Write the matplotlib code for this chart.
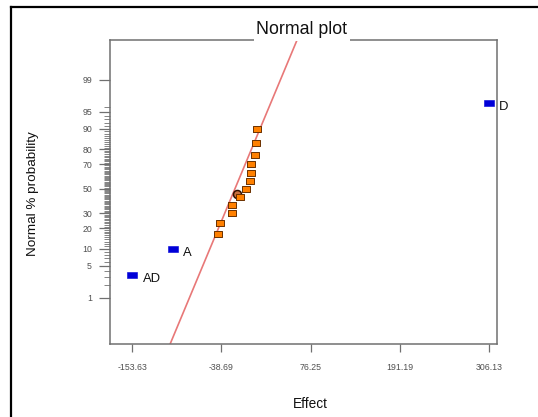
import matplotlib
matplotlib.use("Agg")
import matplotlib.pyplot as plt
from matplotlib.lines import Line2D
from statistics import NormalDist
import numpy as np

plt.rcParams['font.family'] = ['Liberation Sans', 'DejaVu Sans']

# effects, sorted, with their normal % probability
effects = [-153.6, -101.5, -43.3, -40.4, -25.3, -24.9, -15.4, -7.2,
           -2.0, -1.2, -0.7, 4.5, 5.7, 7.4, 305.7]
probs = [3.33, 10.0, 16.67, 23.33, 30.0, 36.67, 43.33, 50.0,
         56.67, 63.33, 70.0, 76.67, 83.33, 90.0, 96.67]
labels = ["AD", "A", "", "", "", "", "", "", "", "", "", "", "", "", "D"]
significant = [True, True] + [False] * 12 + [True]

# extra circled point
circ_effect = [-18.8]
circ_prob = [45.7]

# fitted line (mean, sd of the normal line)
fit_mean = -21.3
fit_sd = 25.25

xticks = [-153.63, -38.69, 76.25, 191.19, 306.13]
yticks_pct = [1, 5, 10, 20, 30, 50, 70, 80, 90, 95, 99]
yminor_pct = list(range(2, 97))

nd = NormalDist()
z = lambda p: nd.inv_cdf(p / 100.0)

fig = plt.figure(figsize=(5.38, 4.17), dpi=100)
ax = fig.add_axes([110 / 538, 73 / 417, 387 / 538, 304 / 417])

ylo, yhi = -3.31, 3.17
ax.set_xlim(-182.4, 316.5)
ax.set_ylim(ylo, yhi)

# fit line
zz = np.array([ylo, yhi])
ax.plot(fit_mean + fit_sd * zz, zz, color="#e87878", lw=1.2, zorder=2)

rect = [(-1, -0.7), (1, -0.7), (1, 0.7), (-1, 0.7), (-1, -0.7)]
for e, p, lab, sig in zip(effects, probs, labels, significant):
    if sig:
        ax.plot(e, z(p), marker=rect, ms=6.6, mfc="#0000d8", mec="#0000d8",
                mew=0.4, ls="none", zorder=4)
        ax.annotate(lab, (e, z(p)), xytext=(7.5, -3), textcoords="offset points",
                    fontsize=9.4, va="center", ha="left", color="#111111")
    else:
        ax.plot(e, z(p), marker=rect, ms=6.0, mfc="#ff8000", mec="#6a3000",
                mew=0.7, ls="none", zorder=4)

ax.plot(circ_effect, [z(p) for p in circ_prob], marker="o",
        ms=5.8, mfc="#c87040", mec="#301000", mew=1.1, ls="none", zorder=3)

ax.set_xticks(xticks)
ax.set_xticklabels([f"{v:.2f}" for v in xticks])
ax.set_yticks([z(p) for p in yticks_pct])
ax.set_yticklabels([str(p) for p in yticks_pct])
ax.set_yticks([z(p) for p in yminor_pct if p not in yticks_pct], minor=True)

ax.tick_params(axis="both", which="major", labelsize=6.3, colors="#707070",
               labelcolor="#505050", width=0.9)
ax.tick_params(axis="x", length=6, pad=8)
ax.tick_params(axis="y", length=8, pad=5)
ax.tick_params(axis="y", which="minor", length=4, width=0.6, colors="#707070")
for s in ax.spines.values():
    s.set_color("#707070")
    s.set_linewidth(1.1)

fig.text(302 / 538, 1 - 30 / 417, "Normal plot", fontsize=12.8, ha="center",
         va="center", color="#111111",
         bbox=dict(facecolor="white", edgecolor="none", pad=1.5), zorder=10)
fig.text(33 / 538, 1 - 194 / 417, "Normal % probability", fontsize=9.7,
         rotation=90, ha="center", va="center", color="#111111")
fig.text(310 / 538, 1 - 404 / 417, "Effect", fontsize=9.8, ha="center",
         va="center", color="#111111")

# screenshot frame (top and left)
fig.add_artist(Line2D([11 / 538, 11 / 538], [0, 1 - 7 / 417],
                      transform=fig.transFigure, color="black", lw=1.6))
fig.add_artist(Line2D([11 / 538, 1], [1 - 7 / 417, 1 - 7 / 417],
                      transform=fig.transFigure, color="black", lw=1.6))

fig.savefig("out.png", dpi=100)
